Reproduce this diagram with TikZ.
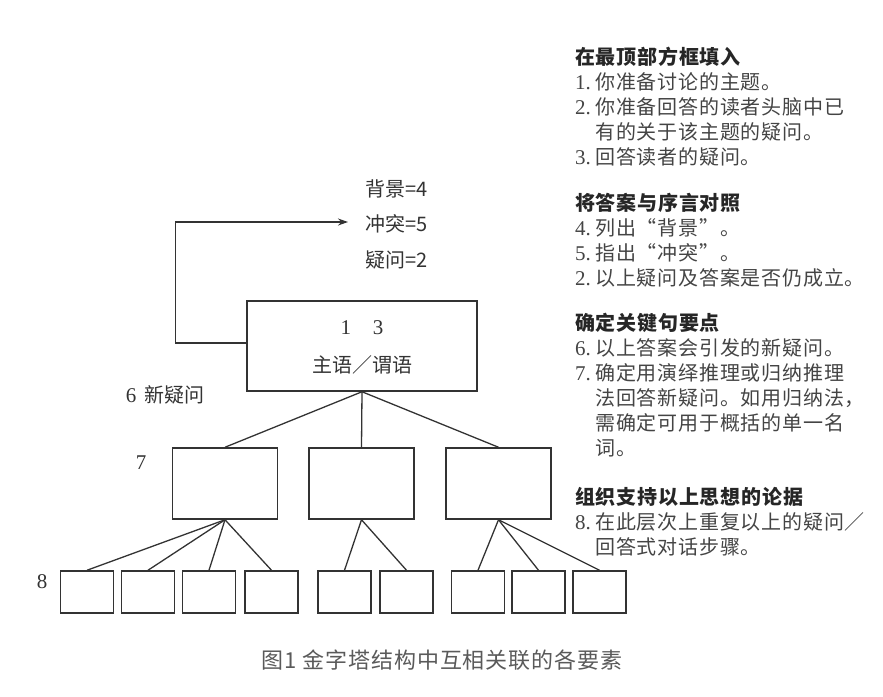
\documentclass[tikz,border=0pt]{standalone}
\usepackage{fontspec}
\setmainfont{Liberation Serif}
\newfontfamily\cjk{Noto Sans CJK SC}
\usetikzlibrary{arrows.meta}
\definecolor{inkgray}{HTML}{333333}
\definecolor{tipgray}{HTML}{444444}
\definecolor{capgray}{HTML}{5A5A5A}
\newcommand\tipnum[1]{\makebox[20pt][l]{\rmfamily\fontsize{21}{25}\selectfont #1}}
\newcommand\tiphead[1]{{\bfseries\color{black!85}#1}}

\begin{document}
\begin{tikzpicture}[x=1pt,y=-1pt,>=Stealth,
  box/.style={draw=inkgray,line width=1.5pt,inner sep=0pt},
  link/.style={draw=inkgray,line width=1.3pt},
  lbl/.style={inner sep=0pt,text=inkgray,font=\fontsize{20}{24}\selectfont\cjk},
  tip/.style={anchor=north west,align=left,inner sep=0pt,text=tipgray,
    font=\fontsize{20}{25}\selectfont\cjk\addfontfeature{LetterSpace=4}}]
\useasboundingbox (0,0) rectangle (883,696);

% pyramid boxes
\node[box,minimum width=230pt,minimum height=90pt] (top) at (362,346) {};
\node[box,minimum width=105pt,minimum height=71pt] (mid1) at (225,483.5) {};
\node[box,minimum width=105pt,minimum height=71pt] (mid2) at (361.5,483.5) {};
\node[box,minimum width=105pt,minimum height=71pt] (mid3) at (498.5,483.5) {};
\foreach \x [count=\i] in {87,148,209,271.5,344.5,406.5,478,538.5,599.5}
  \node[box,minimum width=53pt,minimum height=42pt] (leaf\i) at (\x,592) {};

% texts in and beside the pyramid
\node[lbl] (nums) at (362,328) {\rmfamily\fontsize{21}{24}\selectfont 1\hspace{22pt}3};
\node[lbl] (subj) at (362,365) {主语／谓语};
\node[lbl] (newq) at (165,395) {{\rmfamily\fontsize{21}{24}\selectfont 6}\hspace{8pt}新疑问};
\node[lbl] (lvl7) at (141,463) {\rmfamily\fontsize{21}{24}\selectfont 7};
\node[lbl] (lvl8) at (42,582) {\rmfamily\fontsize{21}{24}\selectfont 8};
\node[lbl,anchor=west] (backgr) at (365,189) {背景=4};
\node[lbl,anchor=west] (conflict) at (365,224) {冲突=5};
\node[lbl,anchor=west] (question) at (365,260) {疑问=2};

% connectors
\foreach \m in {1,2,3}
  \draw[link] (top.south) -- (mid\m.north);
\foreach \l in {1,2,3,4}
  \draw[link] (mid1.south) -- (leaf\l.north);
\foreach \l in {5,6}
  \draw[link] (mid2.south) -- (leaf\l.north);
\foreach \l in {7,8,9}
  \draw[link] (mid3.south) -- (leaf\l.north);
\draw[link,-{Stealth[length=10pt,width=7pt]}] ([yshift=3pt]top.west) -- ++(-71,0)
  |- ([xshift=-17pt,yshift=2pt]conflict.west);

% explanations on the right
\node[tip] (tips1) at (575,47) {\tiphead{在最顶部方框填入}\\
  \tipnum{1.}你准备讨论的主题。\\
  \tipnum{2.}你准备回答的读者头脑中已\\
  \hspace*{20pt}有的关于该主题的疑问。\\
  \tipnum{3.}回答读者的疑问。};
\node[tip] (tips2) at (575,193) {\tiphead{将答案与序言对照}\\
  \tipnum{4.}列出“背景”。\\
  \tipnum{5.}指出“冲突”。\\
  \tipnum{2.}以上疑问及答案是否仍成立。};
\node[tip] (tips3) at (575,313) {\tiphead{确定关键句要点}\\
  \tipnum{6.}以上答案会引发的新疑问。\\
  \tipnum{7.}确定用演绎推理或归纳推理\\
  \hspace*{20pt}法回答新疑问。如用归纳法，\\
  \hspace*{20pt}需确定可用于概括的单一名\\
  \hspace*{20pt}词。};
\node[tip] (tips4) at (575,487) {\tiphead{组织支持以上思想的论据}\\
  \tipnum{8.}在此层次上重复以上的疑问／\\
  \hspace*{20pt}回答式对话步骤。};

% caption
\node[inner sep=0pt,text=capgray,font=\fontsize{22}{24}\selectfont\cjk\addfontfeature{LetterSpace=4}] (caption)
  at (442,660) {图1 金字塔结构中互相关联的各要素};
\end{tikzpicture}
\end{document}
